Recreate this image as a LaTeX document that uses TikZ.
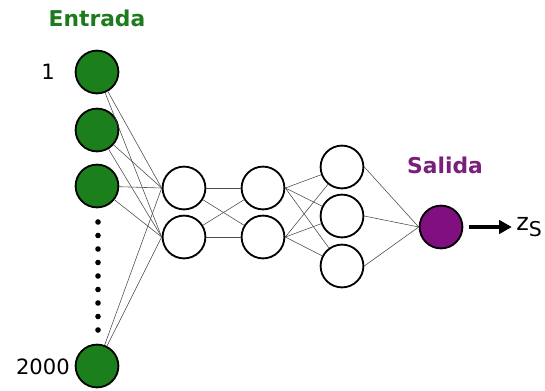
\documentclass[tikz,border=0pt]{standalone}
\usepackage{fontspec}
\setmainfont{DejaVu Sans}
\definecolor{netgreen}{HTML}{1B801B}
\definecolor{netgreentext}{HTML}{1E7A1E}
\definecolor{netpurple}{HTML}{800F80}
\definecolor{netpurpletext}{HTML}{7A1F7A}
\definecolor{netedge}{HTML}{4A4A4A}
\usepackage{tikz}
\usetikzlibrary{arrows.meta,positioning}

\tikzset{
  neuron/.style={circle, draw=black, line width=1.3pt, fill=white,
                 minimum size=1.07cm, inner sep=0pt},
  inneuron/.style={neuron, fill=netgreen},
  outneuron/.style={neuron, fill=netpurple},
  synapse/.style={draw=netedge, line width=0.4pt},
  layerlabel/.style={font=\fontsize{15.5}{17}\selectfont\bfseries},
  idxlabel/.style={font=\fontsize{15}{17}\selectfont, inner sep=0pt}
}

\begin{document}
\begin{tikzpicture}[x=0.025cm,y=-0.025cm]

  \useasboundingbox (0,0) rectangle (545,390);

  %% Input layer
  \node[layerlabel, text=netgreentext] (entrada) at (97,18) {Entrada};
  \node[inneuron] (in1) at (97,72)  {};
  \node[inneuron] (in2) at (97,130) {};
  \node[inneuron] (in3) at (97,186) {};
  \node[inneuron] (inN) at (97,366) {};
  \node[idxlabel, anchor=east] (lab1) at (55,72)  {1};
  \node[idxlabel, anchor=east] (labN) at (70,367) {2000};

  \foreach \k in {0,...,8}
    \fill (98,222+13.5*\k) circle (2.8);

  %% Hidden layers
  \node[neuron] (h1a) at (184,188) {};
  \node[neuron] (h1b) at (184,237) {};
  \node[neuron] (h2a) at (263,188) {};
  \node[neuron] (h2b) at (263,237) {};
  \node[neuron] (h3a) at (342,167) {};
  \node[neuron] (h3b) at (342,216) {};
  \node[neuron] (h3c) at (342,266) {};

  %% Output
  \node[layerlabel, text=netpurpletext] (salida) at (445,165) {Salida};
  \node[outneuron] (out) at (441,227) {};
  \node[font=\fontsize{17}{19}\selectfont, anchor=west, inner sep=0pt]
    (zs) at (516,227) {z\raisebox{-4.5pt}{\fontsize{14.5}{16}\selectfont S}};

  %% Connections
  \draw[synapse] (in1) -- (h1a.west);
  \draw[synapse] (in1) -- (h1b.west);
  \draw[synapse] (in2) -- (h1a.west);
  \draw[synapse] (in2) -- (h1b.west);
  \draw[synapse] (in3) -- (h1a.west);
  \draw[synapse] (in3) -- (h1b.west);
  \draw[synapse] (inN) -- (h1a.west);
  \draw[synapse] (inN) -- (h1b.west);

  \draw[synapse] (h1a) -- (h2a);
  \draw[synapse] (h1a) -- (h2b);
  \draw[synapse] (h1b) -- (h2a);
  \draw[synapse] (h1b) -- (h2b);

  \draw[synapse] (h2a.east) -- (h3a);
  \draw[synapse] (h2a.east) -- (h3b);
  \draw[synapse] (h2a.east) -- (h3c);
  \draw[synapse] (h2b.east) -- (h3a);
  \draw[synapse] (h2b.east) -- (h3b);
  \draw[synapse] (h2b.east) -- (h3c);

  \draw[synapse] (h3a.east) -- (out.west);
  \draw[synapse] (h3b.east) -- (out.west);
  \draw[synapse] (h3c.east) -- (out.west);

  \draw[-{Triangle[length=9pt,width=9.5pt]}, line width=2.8pt, shorten <=4pt]
    (out.east) -- ([xshift=-3pt]zs.west);

\end{tikzpicture}
\end{document}
